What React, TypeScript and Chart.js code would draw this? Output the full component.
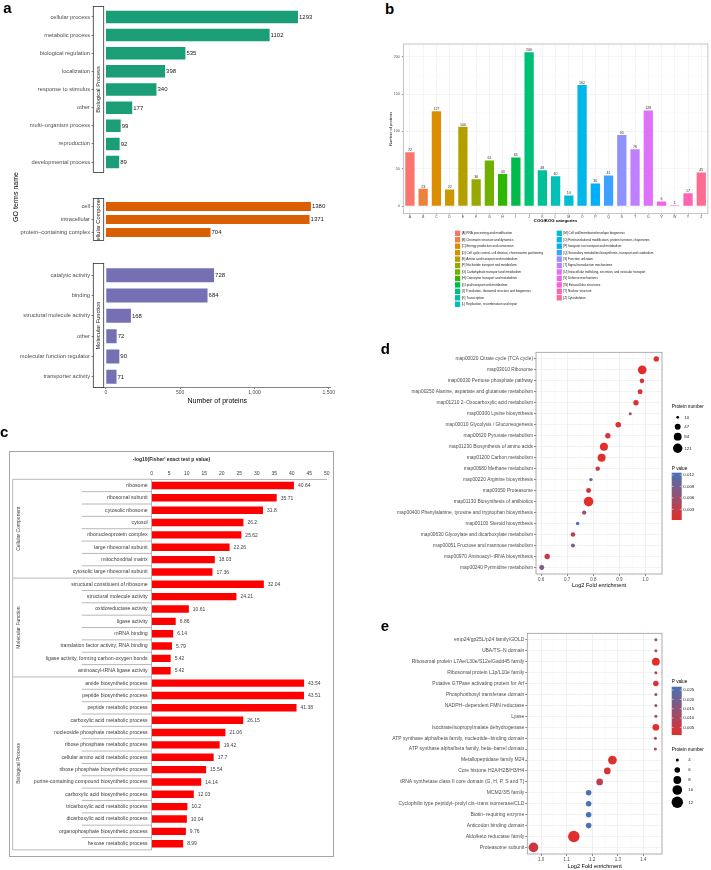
import React, { useEffect, useRef } from 'react';
import { Chart, registerables } from 'chart.js';

Chart.register(...registerables);

const FONT = "'Liberation Sans', Arial, Helvetica, sans-serif";
Chart.defaults.font.family = FONT;

// ================= DATA =================
// Panel a
const aBPLabels = ['cellular process', 'metabolic process', 'biological regulation', 'localization', 'response to stimulus', 'other', 'multi\u2212organism process', 'reproduction', 'developmental process'];
const aBPValues = [1293, 1102, 535, 398, 340, 177, 99, 92, 89];
const aCCLabels = ['cell', 'intracellular', 'protein\u2212containing complex'];
const aCCValues = [1380, 1371, 704];
const aMFLabels = ['catalytic activity', 'binding', 'structural molecule activity', 'other', 'molecular function regulator', 'transporter activity'];
const aMFValues = [728, 684, 168, 72, 90, 71];
const aXTicks = [0, 500, 1000, 1500];

// Panel b
const bCategories = ['A', 'B', 'C', 'D', 'E', 'F', 'G', 'H', 'I', 'J', 'K', 'L', 'M', 'O', 'P', 'Q', 'S', 'T', 'U', 'V', 'W', 'Y', 'Z'];
const bValues = [72, 23, 127, 22, 106, 36, 61, 43, 65, 206, 48, 40, 14, 162, 30, 41, 95, 76, 128, 6, 1, 17, 45];
const bLegendLabels = [
  '[A] RNA processing and modification',
  '[B] Chromatin structure and dynamics',
  '[C] Energy production and conversion',
  '[D] Cell cycle control, cell division, chromosome partitioning',
  '[E] Amino acid transport and metabolism',
  '[F] Nucleotide transport and metabolism',
  '[G] Carbohydrate transport and metabolism',
  '[H] Coenzyme transport and metabolism',
  '[I] Lipid transport and metabolism',
  '[J] Translation, ribosomal structure and biogenesis',
  '[K] Transcription',
  '[L] Replication, recombination and repair',
  '[M] Cell wall/membrane/envelope biogenesis',
  '[O] Posttranslational modification, protein turnover, chaperones',
  '[P] Inorganic ion transport and metabolism',
  '[Q] Secondary metabolites biosynthesis, transport and catabolism',
  '[S] Function unknown',
  '[T] Signal transduction mechanisms',
  '[U] Intracellular trafficking, secretion, and vesicular transport',
  '[V] Defense mechanisms',
  '[W] Extracellular structures',
  '[Y] Nuclear structure',
  '[Z] Cytoskeleton',
];
const bYTicks = [0, 25, 50, 75, 100, 125, 150, 175, 200];

// Panel c
const cGroupNames = ['Cellular Component', 'Molecular Function', 'Biological Process'];
const cCCLabels = ['ribosome', 'ribosomal subunit', 'cytosolic ribosome', 'cytosol', 'ribonucleoprotein complex', 'large ribosomal subunit', 'mitochondrial matrix', 'cytosolic large ribosomal subunit'];
const cCCValues = [40.64, 35.71, 31.8, 26.2, 25.62, 22.26, 18.03, 17.36];
const cMFLabels = ['structural constituent of ribosome', 'structural molecule activity', 'oxidoreductase activity', 'ligase activity', 'mRNA binding', 'translation factor activity, RNA binding', 'ligase activity, forming carbon-oxygen bonds', 'aminoacyl-tRNA ligase activity'];
const cMFValues = [32.04, 24.21, 10.61, 6.86, 6.14, 5.79, 5.42, 5.42];
const cBPLabels = ['amide biosynthetic process', 'peptide biosynthetic process', 'peptide metabolic process', 'carboxylic acid metabolic process', 'nucleoside phosphate metabolic process', 'ribose phosphate metabolic process', 'cellular amino acid metabolic process', 'ribose phosphate biosynthetic process', 'purine-containing compound biosynthetic process', 'carboxylic acid biosynthetic process', 'tricarboxylic acid metabolic process', 'dicarboxylic acid metabolic process', 'organophosphate biosynthetic process', 'hexose metabolic process'];
const cBPValues = [43.54, 43.51, 41.38, 26.15, 21.06, 19.42, 17.7, 15.54, 14.14, 12.03, 10.2, 10.04, 9.76, 8.99];
const cXTicks = [0, 5, 10, 15, 20, 25, 30, 35, 40, 45, 50];
const cTitle = "-log10(Fisher' exact test p value)";

// Panel d
const dLabels = [
  'map00020 Citrate cycle (TCA cycle)',
  'map03010 Ribosome',
  'map00030 Pentose phosphate pathway',
  'map00250 Alanine, aspartate and glutamate metabolism',
  'map01210 2\u2212Oxocarboxylic acid metabolism',
  'map00300 Lysine biosynthesis',
  'map00010 Glycolysis / Gluconeogenesis',
  'map00620 Pyruvate metabolism',
  'map01230 Biosynthesis of amino acids',
  'map01200 Carbon metabolism',
  'map00680 Methane metabolism',
  'map00220 Arginine biosynthesis',
  'map03050 Proteasome',
  'map01130 Biosynthesis of antibiotics',
  'map00400 Phenylalanine, tyrosine and tryptophan biosynthesis',
  'map00100 Steroid biosynthesis',
  'map00630 Glyoxylate and dicarboxylate metabolism',
  'map00051 Fructose and mannose metabolism',
  'map00970 Aminoacyl\u2212tRNA biosynthesis',
  'map00240 Pyrimidine metabolism',
];
const dFold = [1.042, 0.988, 0.987, 0.98, 0.964, 0.942, 0.896, 0.856, 0.841, 0.832, 0.817, 0.791, 0.782, 0.782, 0.765, 0.74, 0.722, 0.722, 0.623, 0.602];
const dCount = [39, 105, 28, 33, 39, 12, 42, 39, 88, 88, 26, 15, 33, 128, 24, 16, 28, 21, 39, 33];
const dPValue = [0.0004, 0.0002, 0.0006, 0.0008, 0.0012, 0.0065, 0.0006, 0.0012, 0.0004, 0.0004, 0.0025, 0.0095, 0.0015, 0.0002, 0.006, 0.0126, 0.003, 0.0085, 0.002, 0.0088];
const dSizeBreaks = [10, 47, 84, 121];
const dPBreaks = [0.003, 0.006, 0.009, 0.012];
const dXTicks = [0.6, 0.65, 0.7, 0.75, 0.8, 0.85, 0.9, 0.95, 1.0, 1.05];

// Panel e
const eLabels = [
  'emp24/gp25L/p24 family/GOLD',
  'UBA/TS\u2212N domain',
  'Ribosomal protein L7Ae/L30e/S12e/Gadd45 family',
  'Ribosomal protein L1p/L10e family',
  'Putative GTPase activating protein for Arf',
  'Phosphoribosyl transferase domain',
  'NADPH\u2212dependent FMN reductase',
  'Lyase',
  'Isocitrate/isopropylmalate dehydrogenase',
  'ATP synthase alpha/beta family, nucleotide\u2212binding domain',
  'ATP synthase alpha/beta family, beta\u2212barrel domain',
  'Metallopeptidase family M24',
  'Core histone H2A/H2B/H3/H4',
  'tRNA synthetase class II core domain (G, H, P, S and T)',
  'MCM2/3/5 family',
  'Cyclophilin type peptidyl\u2212prolyl cis\u2212trans isomerase/CLD',
  'Biotin\u2212requiring enzyme',
  'Anticodon binding domain',
  'Aldo/keto reductase family',
  'Proteasome subunit',
];
const eFold = [1.449, 1.449, 1.449, 1.449, 1.449, 1.449, 1.449, 1.449, 1.449, 1.447, 1.447, 1.279, 1.259, 1.229, 1.186, 1.186, 1.186, 1.186, 1.128, 0.97];
const eCount = [4, 4, 8, 4, 6, 4, 4, 4, 7, 4, 4, 9, 7, 7, 6, 6, 6, 6, 12, 10];
const ePValue = [0.0135, 0.0135, 0.0009, 0.0135, 0.002, 0.0135, 0.0135, 0.0135, 0.0015, 0.0135, 0.0135, 0.002, 0.003, 0.008, 0.0268, 0.0268, 0.0268, 0.0268, 0.0012, 0.005];
const eSizeBreaks = [4, 6, 8, 10, 12];
const ePBreaks = [0.005, 0.01, 0.015, 0.02, 0.025];
const eXTicks = [0.95, 1.0, 1.05, 1.1, 1.15, 1.2, 1.25, 1.3, 1.35, 1.4, 1.45];

// ================= HELPERS =================
function hcl(h: number, c: number, l: number): string {
  const hr = (h * Math.PI) / 180;
  const U = c * Math.cos(hr);
  const V = c * Math.sin(hr);
  const Xn = 95.047, Yn = 100, Zn = 108.883;
  const den = Xn + 15 * Yn + 3 * Zn;
  const un = (4 * Xn) / den, vn = (9 * Yn) / den;
  const Y = Yn * Math.pow((l + 16) / 116, 3);
  const u = U / (13 * l) + un;
  const v = V / (13 * l) + vn;
  const X = (Y * 9 * u) / (4 * v);
  const Z = (Y * (12 - 3 * u - 20 * v)) / (4 * v);
  const x = X / 100, y = Y / 100, z = Z / 100;
  const lin = [
    3.2404542 * x - 1.5371385 * y - 0.4985314 * z,
    -0.969266 * x + 1.8760108 * y + 0.041556 * z,
    0.0556434 * x - 0.2040259 * y + 1.0572252 * z,
  ];
  const out = lin.map((t) => {
    const g = t <= 0.0031308 ? 12.92 * t : 1.055 * Math.pow(t, 1 / 2.4) - 0.055;
    return Math.round(Math.max(0, Math.min(1, g)) * 255);
  });
  return `rgb(${out[0]},${out[1]},${out[2]})`;
}

const bColors = bCategories.map((_, i) => hcl(15 + (360 * i) / bCategories.length, 100, 65));

const LOW = [226, 46, 42];
const HIGH = [72, 114, 182];
function pColor(p: number, pmin: number, pmax: number) {
  const t = Math.max(0, Math.min(1, (p - pmin) / (pmax - pmin)));
  const c = LOW.map((lo, k) => Math.round(lo + (HIGH[k] - lo) * t));
  return `rgb(${c[0]},${c[1]},${c[2]})`;
}
const isMajor = (v: number) => Math.abs(v * 10 - Math.round(v * 10)) < 1e-6;

function ChartBox(props: { left: number; top: number; width: number; height: number; make: () => any }) {
  const ref = useRef<HTMLCanvasElement>(null);
  useEffect(() => {
    const chart = new Chart(ref.current as HTMLCanvasElement, props.make());
    return () => chart.destroy();
  }, []);
  return (
    <canvas
      ref={ref}
      width={props.width}
      height={props.height}
      style={{ position: 'absolute', left: props.left, top: props.top, width: props.width, height: props.height }}
    />
  );
}

// ================= PANEL A =================
const A_W = 340;
const A_LEFT = 93.5;
const A_RIGHT = 330.2;

const aValuePlugin = {
  id: 'aValues',
  afterDatasetsDraw(chart: any) {
    const ctx = chart.ctx;
    const meta = chart.getDatasetMeta(0);
    const vals = chart.data.datasets[0].data;
    ctx.save();
    ctx.font = `6px ${FONT}`;
    ctx.fillStyle = '#1a1a1a';
    ctx.textAlign = 'left';
    ctx.textBaseline = 'middle';
    meta.data.forEach((el: any, i: number) => ctx.fillText(String(vals[i]), el.x + 1, el.y + 0.3));
    ctx.restore();
  },
};

function stripPlugin(text: string, extraBottom: number) {
  return {
    id: 'strip',
    afterDraw(chart: any) {
      const { ctx, chartArea } = chart;
      const x0 = 93.3, x1 = 103.7;
      const y0 = chartArea.top - 1.5, y1 = chartArea.bottom + extraBottom;
      ctx.save();
      ctx.fillStyle = '#ffffff';
      ctx.fillRect(x0, y0, x1 - x0, y1 - y0);
      ctx.strokeStyle = '#333333';
      ctx.lineWidth = 0.8;
      ctx.strokeRect(x0, y0, x1 - x0, y1 - y0);
      ctx.beginPath();
      ctx.rect(x0, y0, x1 - x0, y1 - y0);
      ctx.clip();
      ctx.translate((x0 + x1) / 2, (y0 + y1) / 2);
      ctx.rotate(-Math.PI / 2);
      ctx.fillStyle = '#1a1a1a';
      ctx.font = `5.7px ${FONT}`;
      ctx.textAlign = 'center';
      ctx.textBaseline = 'middle';
      ctx.fillText(text, 0, 0.3);
      ctx.restore();
    },
  };
}

function aConfig(labels: string[], values: number[], color: string, strip: string, padTop: number, padBottom: number, showX: boolean, extraBottom: number) {
  return {
    type: 'bar',
    data: { labels, datasets: [{ data: values, backgroundColor: color, borderWidth: 0, barPercentage: 0.69, categoryPercentage: 1 }] },
    options: {
      animation: false,
      responsive: false,
      indexAxis: 'y',
      layout: { padding: { left: 0, top: padTop, right: A_W - A_RIGHT, bottom: padBottom } },
      plugins: { legend: { display: false }, tooltip: { enabled: false } },
      scales: {
        x: {
          type: 'linear',
          min: -84,
          max: 1510,
          display: showX,
          afterBuildTicks: (s: any) => { s.ticks = aXTicks.map((v) => ({ value: v })); },
          afterFit: (s: any) => { s.height = 19; },
          ticks: { font: { size: 5 }, color: '#4d4d4d', padding: 1, maxRotation: 0, autoSkip: false },
          grid: { drawOnChartArea: false, drawTicks: true, tickLength: 2, color: '#333333', lineWidth: 0.6 },
          border: { display: true, color: '#333333', width: 0.6 },
        },
        y: {
          afterFit: (s: any) => { s.width = A_LEFT; },
          ticks: { font: { size: 5.7 }, color: '#4d4d4d', padding: 1.5, autoSkip: false },
          grid: { offset: false, drawOnChartArea: false, drawTicks: true, tickLength: 2, color: '#333333', lineWidth: 0.6 },
          border: { display: false },
        },
      },
    },
    plugins: [aValuePlugin, stripPlugin(strip, extraBottom)],
  };
}

// ================= PANEL B =================
const B_W = 351, B_H = 285;
const B_AREA = { left: 43.3, top: 14, right: 347.9, bottom: 183.7 };
const B_XH = 9.9;

const bPlugin = {
  id: 'bDeco',
  afterDatasetsDraw(chart: any) {
    const { ctx, chartArea: a } = chart;
    const meta = chart.getDatasetMeta(0);
    ctx.save();
    ctx.font = `3.6px ${FONT}`;
    ctx.fillStyle = '#333333';
    ctx.textAlign = 'center';
    ctx.textBaseline = 'bottom';
    meta.data.forEach((el: any, i: number) => ctx.fillText(String(bValues[i]), el.x, el.y - 0.5));
    ctx.strokeStyle = '#aaaaaa';
    ctx.lineWidth = 0.7;
    ctx.strokeRect(a.left, a.top, a.right - a.left, a.bottom - a.top);
    ctx.restore();
  },
  afterDraw(chart: any) {
    const ctx = chart.ctx;
    ctx.save();
    ctx.font = `3.1px ${FONT}`;
    ctx.textBaseline = 'middle';
    ctx.textAlign = 'left';
    bLegendLabels.forEach((txt, i) => {
      const col = i < 12 ? 0 : 1;
      const row = col ? i - 12 : i;
      const sx = col ? 196.7 : 95;
      const tx = col ? 203.3 : 101.7;
      const y = 203.3 + row * 6.45;
      ctx.fillStyle = bColors[i];
      ctx.fillRect(sx, y - 2.7, 5.2, 5.4);
      ctx.fillStyle = '#1a1a1a';
      ctx.fillText(txt, tx, y);
    });
    ctx.restore();
  },
};

function bConfig() {
  const major = (c: any) => c && c.tick && c.tick.value % 50 === 0;
  return {
    type: 'bar',
    data: { labels: bCategories, datasets: [{ data: bValues, backgroundColor: bColors, borderWidth: 0, barPercentage: 0.7, categoryPercentage: 1 }] },
    options: {
      animation: false,
      responsive: false,
      layout: { padding: { left: 0, top: B_AREA.top, right: B_W - B_AREA.right, bottom: B_H - B_AREA.bottom - B_XH } },
      plugins: { legend: { display: false }, tooltip: { enabled: false } },
      scales: {
        x: {
          afterFit: (s: any) => { s.height = B_XH; },
          ticks: { font: { size: 3.6, lineHeight: 1 }, color: '#4d4d4d', padding: 0, autoSkip: false, maxRotation: 0 },
          grid: { offset: false, color: '#ebebeb', lineWidth: 0.5, tickColor: '#333333', tickLength: 1 },
          border: { display: false },
          title: { display: true, text: 'COG/KOG categories', font: { size: 4.3, weight: 'bold' }, color: '#000000', padding: 0 },
        },
        y: {
          min: -10.3,
          max: 217,
          afterBuildTicks: (s: any) => { s.ticks = bYTicks.map((v) => ({ value: v })); },
          afterFit: (s: any) => { s.width = B_AREA.left; },
          ticks: { font: { size: 3.6 }, color: '#4d4d4d', padding: 2, autoSkip: false, callback: (v: number) => (v % 50 === 0 ? String(v) : '') },
          grid: {
            color: (c: any) => (major(c) ? '#ebebeb' : '#f4f4f4'),
            lineWidth: (c: any) => (major(c) ? 0.5 : 0.3),
            tickColor: (c: any) => (major(c) ? '#333333' : 'rgba(0,0,0,0)'),
            tickLength: 1.5,
          },
          border: { display: false },
          title: { display: true, text: 'Number of proteins', font: { size: 4 }, color: '#000000', padding: { top: 28.6, bottom: 0 } },
        },
      },
    },
    plugins: [bPlugin],
  };
}

// ================= PANEL C =================
const C_W = 325, C_H = 406;
const cLabels = [...cCCLabels, ...cMFLabels, ...cBPLabels];
const cValues = [...cCCValues, ...cMFValues, ...cBPValues];
const cBounds = [0, cCCLabels.length, cCCLabels.length + cMFLabels.length, cLabels.length];

const cPlugin = {
  id: 'cDeco',
  afterDatasetsDraw(chart: any) {
    const ctx = chart.ctx;
    const meta = chart.getDatasetMeta(0);
    ctx.save();
    ctx.font = `5px ${FONT}`;
    ctx.fillStyle = '#404040';
    ctx.textAlign = 'left';
    ctx.textBaseline = 'middle';
    meta.data.forEach((el: any, i: number) => ctx.fillText(String(cValues[i]), el.x + 4, el.y + 0.3));
    ctx.restore();
  },
  afterDraw(chart: any) {
    const { ctx, chartArea: a } = chart;
    const ys = chart.scales.y;
    ctx.save();
    ctx.strokeStyle = '#a6a6a6';
    ctx.lineWidth = 1;
    ctx.strokeRect(0.5, 0.5, C_W - 1, C_H - 1);
    ctx.fillStyle = '#262626';
    ctx.font = `bold 5px ${FONT}`;
    ctx.textAlign = 'center';
    ctx.textBaseline = 'middle';
    ctx.fillText(cTitle, 162.5, 9);
    ctx.lineWidth = 0.8;
    ctx.strokeStyle = '#a6a6a6';
    for (let i = 0; i <= cLabels.length; i++) {
      const y = ys.getPixelForValue(i - 0.5);
      const x0 = cBounds.includes(i) ? 3.7 : 72.7;
      ctx.beginPath();
      ctx.moveTo(x0, y);
      ctx.lineTo(a.left, y);
      ctx.stroke();
    }
    ctx.beginPath();
    ctx.moveTo(3.7, ys.getPixelForValue(-0.5));
    ctx.lineTo(3.7, ys.getPixelForValue(cLabels.length - 0.5));
    ctx.stroke();
    ctx.fillStyle = '#404040';
    ctx.font = `5px ${FONT}`;
    cGroupNames.forEach((g, gi) => {
      const yc = (ys.getPixelForValue(cBounds[gi] - 0.5) + ys.getPixelForValue(cBounds[gi + 1] - 0.5)) / 2;
      ctx.save();
      ctx.translate(9.3, yc);
      ctx.rotate(-Math.PI / 2);
      ctx.fillText(g, 0, 0);
      ctx.restore();
    });
    ctx.restore();
  },
};

function cConfig() {
  return {
    type: 'bar',
    data: { labels: cLabels, datasets: [{ data: cValues, backgroundColor: '#ff0000', borderWidth: 0, barPercentage: 0.6, categoryPercentage: 1 }] },
    options: {
      animation: false,
      responsive: false,
      indexAxis: 'y',
      layout: { padding: { left: 0, top: 0, right: 7.3, bottom: 6.8 } },
      plugins: { legend: { display: false }, tooltip: { enabled: false } },
      scales: {
        x: {
          position: 'top',
          type: 'linear',
          min: 0,
          max: 50,
          afterBuildTicks: (s: any) => { s.ticks = cXTicks.map((v) => ({ value: v })); },
          afterFit: (s: any) => { s.height = 28.3; },
          ticks: { font: { size: 5 }, color: '#404040', padding: 3, maxRotation: 0, autoSkip: false },
          grid: { display: false, drawTicks: false },
          border: { display: true, color: '#a6a6a6', width: 0.8 },
        },
        y: {
          afterFit: (s: any) => { s.width = 142.7; },
          ticks: { font: { size: 5.2 }, color: '#404040', padding: 4, autoSkip: false },
          grid: { display: false, drawTicks: false },
          border: { display: true, color: '#a6a6a6', width: 0.8 },
        },
      },
    },
    plugins: [cPlugin],
  };
}

// ================= PANELS D / E =================
const framePlugin = {
  id: 'frame',
  afterDatasetsDraw(chart: any) {
    const { ctx, chartArea: a } = chart;
    ctx.save();
    ctx.strokeStyle = '#9a9a9a';
    ctx.lineWidth = 0.8;
    ctx.strokeRect(a.left, a.top, a.right - a.left, a.bottom - a.top);
    ctx.restore();
  },
};

function drawSizeLegend(ctx: any, o: { tx: number; ty: number; dotX: number; labelX: number; breaks: number[]; ys: number[]; rFn: (n: number) => number }) {
  ctx.fillStyle = '#000000';
  ctx.font = `4.7px ${FONT}`;
  ctx.textAlign = 'left';
  ctx.textBaseline = 'middle';
  ctx.fillText('Protein number', o.tx, o.ty);
  ctx.font = `4.4px ${FONT}`;
  o.breaks.forEach((b, i) => {
    ctx.fillStyle = '#000000';
    ctx.beginPath();
    ctx.arc(o.dotX, o.ys[i], o.rFn(b), 0, Math.PI * 2);
    ctx.fill();
    ctx.fillStyle = '#1a1a1a';
    ctx.fillText(String(b), o.labelX, o.ys[i]);
  });
}

function drawColorBar(ctx: any, o: { tx: number; ty: number; x: number; top: number; bottom: number; labelX: number; pmin: number; pmax: number; breaks: number[] }) {
  ctx.fillStyle = '#000000';
  ctx.font = `4.7px ${FONT}`;
  ctx.textAlign = 'left';
  ctx.textBaseline = 'middle';
  ctx.fillText('P value', o.tx, o.ty);
  const g = ctx.createLinearGradient(0, o.top, 0, o.bottom);
  g.addColorStop(0, pColor(o.pmax, o.pmin, o.pmax));
  g.addColorStop(0.5, pColor((o.pmax + o.pmin) / 2, o.pmin, o.pmax));
  g.addColorStop(1, pColor(o.pmin, o.pmin, o.pmax));
  ctx.fillStyle = g;
  ctx.fillRect(o.x, o.top, 10, o.bottom - o.top);
  ctx.font = `4.4px ${FONT}`;
  o.breaks.forEach((b) => {
    const y = o.top + ((o.pmax - b) / (o.pmax - o.pmin)) * (o.bottom - o.top);
    ctx.strokeStyle = '#ffffff';
    ctx.lineWidth = 0.5;
    ctx.beginPath();
    ctx.moveTo(o.x, y);
    ctx.lineTo(o.x + 2, y);
    ctx.moveTo(o.x + 8, y);
    ctx.lineTo(o.x + 10, y);
    ctx.stroke();
    ctx.fillStyle = '#1a1a1a';
    ctx.fillText(b.toFixed(3), o.labelX, y);
  });
}

function bubbleConfig(o: any) {
  const n = o.labels.length;
  const pmin = Math.min(...o.pvals);
  const pmax = Math.max(...o.pvals);
  const maj = (c: any) => c && c.tick && isMajor(c.tick.value);
  const legendPlugin = {
    id: 'bubbleLegend',
    afterDraw(chart: any) {
      const ctx = chart.ctx;
      ctx.save();
      o.drawLegend(ctx, pmin, pmax);
      ctx.restore();
    },
  };
  return {
    type: 'bubble',
    data: {
      datasets: [{
        data: o.xs.map((x: number, i: number) => ({ x, y: i, r: o.rFn(o.counts[i]) })),
        backgroundColor: o.pvals.map((p: number) => pColor(p, pmin, pmax)),
        borderWidth: 0,
        hoverBorderWidth: 0,
      }],
    },
    options: {
      animation: false,
      responsive: false,
      layout: { padding: { left: 0, top: o.area.top, right: o.w - o.area.right, bottom: o.padBottom } },
      plugins: { legend: { display: false }, tooltip: { enabled: false } },
      scales: {
        x: {
          type: 'linear',
          min: o.xmin,
          max: o.xmax,
          afterBuildTicks: (s: any) => { s.ticks = o.xticks.map((v: number) => ({ value: v })); },
          afterFit: (s: any) => { s.height = o.h - o.padBottom - o.area.bottom; },
          ticks: { font: { size: 4.5 }, color: '#4d4d4d', padding: 1, maxRotation: 0, autoSkip: false, callback: (v: number) => (isMajor(v) ? v.toFixed(1) : '') },
          grid: {
            color: (c: any) => (maj(c) ? '#e6e6e6' : '#f2f2f2'),
            lineWidth: (c: any) => (maj(c) ? 0.6 : 0.35),
            tickColor: (c: any) => (maj(c) ? '#333333' : 'rgba(0,0,0,0)'),
            tickLength: 2,
          },
          border: { display: false },
          title: { display: true, text: 'Log2 Fold enrichment', font: { size: 5.6 }, color: '#000000', padding: 0 },
        },
        y: {
          type: 'linear',
          reverse: true,
          min: -0.6,
          max: n - 0.4,
          afterBuildTicks: (s: any) => { s.ticks = o.labels.map((_: string, i: number) => ({ value: i })); },
          afterFit: (s: any) => { s.width = o.area.left; },
          ticks: { font: { size: o.labelSize }, color: '#4d4d4d', padding: 1, autoSkip: false, callback: (v: number) => o.labels[v] },
          grid: { color: '#ebebeb', lineWidth: 0.6, tickColor: '#333333', tickLength: 2 },
          border: { display: false },
        },
      },
    },
    plugins: [framePlugin, legendPlugin],
  };
}

const rD = (n: number) => 0.07 + 0.42 * Math.sqrt(n);
const rE = (n: number) => -4.24 + 2.87 * Math.sqrt(n);

function dConfig() {
  return bubbleConfig({
    labels: dLabels, xs: dFold, counts: dCount, pvals: dPValue, rFn: rD, labelSize: 4.85,
    xmin: 0.58, xmax: 1.064, xticks: dXTicks,
    w: 351, h: 255, area: { left: 176, top: 12.3, right: 302, bottom: 234 }, padBottom: 6,
    drawLegend: (ctx: any, pmin: number, pmax: number) => {
      drawSizeLegend(ctx, { tx: 311.7, ty: 66.7, dotX: 317.7, labelX: 324.3, breaks: dSizeBreaks, ys: [77.3, 86.7, 96.7, 108.3], rFn: rD });
      drawColorBar(ctx, { tx: 311.7, ty: 128.3, x: 311.7, top: 132.7, bottom: 180, labelX: 323.3, pmin, pmax, breaks: dPBreaks });
    },
  });
}

function eConfig() {
  return bubbleConfig({
    labels: eLabels, xs: eFold, counts: eCount, pvals: ePValue, rFn: rE, labelSize: 5.0,
    xmin: 0.946, xmax: 1.473, xticks: eXTicks,
    w: 351, h: 250, area: { left: 167.3, top: 13.3, right: 302, bottom: 234 }, padBottom: 0,
    drawLegend: (ctx: any, pmin: number, pmax: number) => {
      drawColorBar(ctx, { tx: 311.7, ty: 61.7, x: 311.7, top: 66.7, bottom: 115, labelX: 323.3, pmin, pmax, breaks: ePBreaks });
      drawSizeLegend(ctx, { tx: 311.7, ty: 130, dotX: 317.3, labelX: 328.3, breaks: eSizeBreaks, ys: [140, 150, 160, 170, 182.3], rFn: rE });
    },
  });
}

// ================= APP =================
const panelLabel = (text: string, left: number, top: number) => (
  <div style={{ position: 'absolute', left, top, fontSize: 15, lineHeight: '15px', fontWeight: 'bold', fontFamily: FONT, color: '#000' }}>{text}</div>
);

export default function App() {
  return (
    <div style={{ position: 'absolute', left: 0, top: 0, width: 711, height: 870, background: '#ffffff', overflow: 'hidden', fontFamily: FONT }}>
      {/* Panel a */}
      <ChartBox left={0} top={0} width={A_W} height={195} make={() => aConfig(aBPLabels, aBPValues, '#1b9e77', 'Biological Process', 7.9, 4.9, false, 1.5)} />
      <ChartBox left={0} top={195} width={A_W} height={65} make={() => aConfig(aCCLabels, aCCValues, '#d95f02', 'Cellular Component', 1.8, 2.1, false, 1.5)} />
      <ChartBox left={0} top={260} width={A_W} height={146} make={() => aConfig(aMFLabels, aMFValues, '#7570b3', 'Molecular Function', 5, 0, true, 0.5)} />
      <div style={{ position: 'absolute', left: 15.5, top: 197, transform: 'translate(-50%, -50%) rotate(-90deg)', whiteSpace: 'nowrap', fontSize: 7, lineHeight: '8px', color: '#000' }}>GO terms name</div>
      <div style={{ position: 'absolute', left: 217.3, top: 401, transform: 'translate(-50%, -50%)', whiteSpace: 'nowrap', fontSize: 7, lineHeight: '8px', color: '#000' }}>Number of proteins</div>

      {/* Panel b */}
      <ChartBox left={360} top={30} width={B_W} height={B_H} make={bConfig} />

      {/* Panel c */}
      <ChartBox left={9} top={451} width={C_W} height={C_H} make={cConfig} />

      {/* Panel d */}
      <ChartBox left={360} top={340} width={351} height={255} make={dConfig} />

      {/* Panel e */}
      <ChartBox left={360} top={620} width={351} height={250} make={eConfig} />

      {panelLabel('a', 3.3, 0.3)}
      {panelLabel('b', 385, 0.6)}
      {panelLabel('c', 0, 424.3)}
      {panelLabel('d', 380.7, 341.3)}
      {panelLabel('e', 380.7, 618)}
    </div>
  );
}
